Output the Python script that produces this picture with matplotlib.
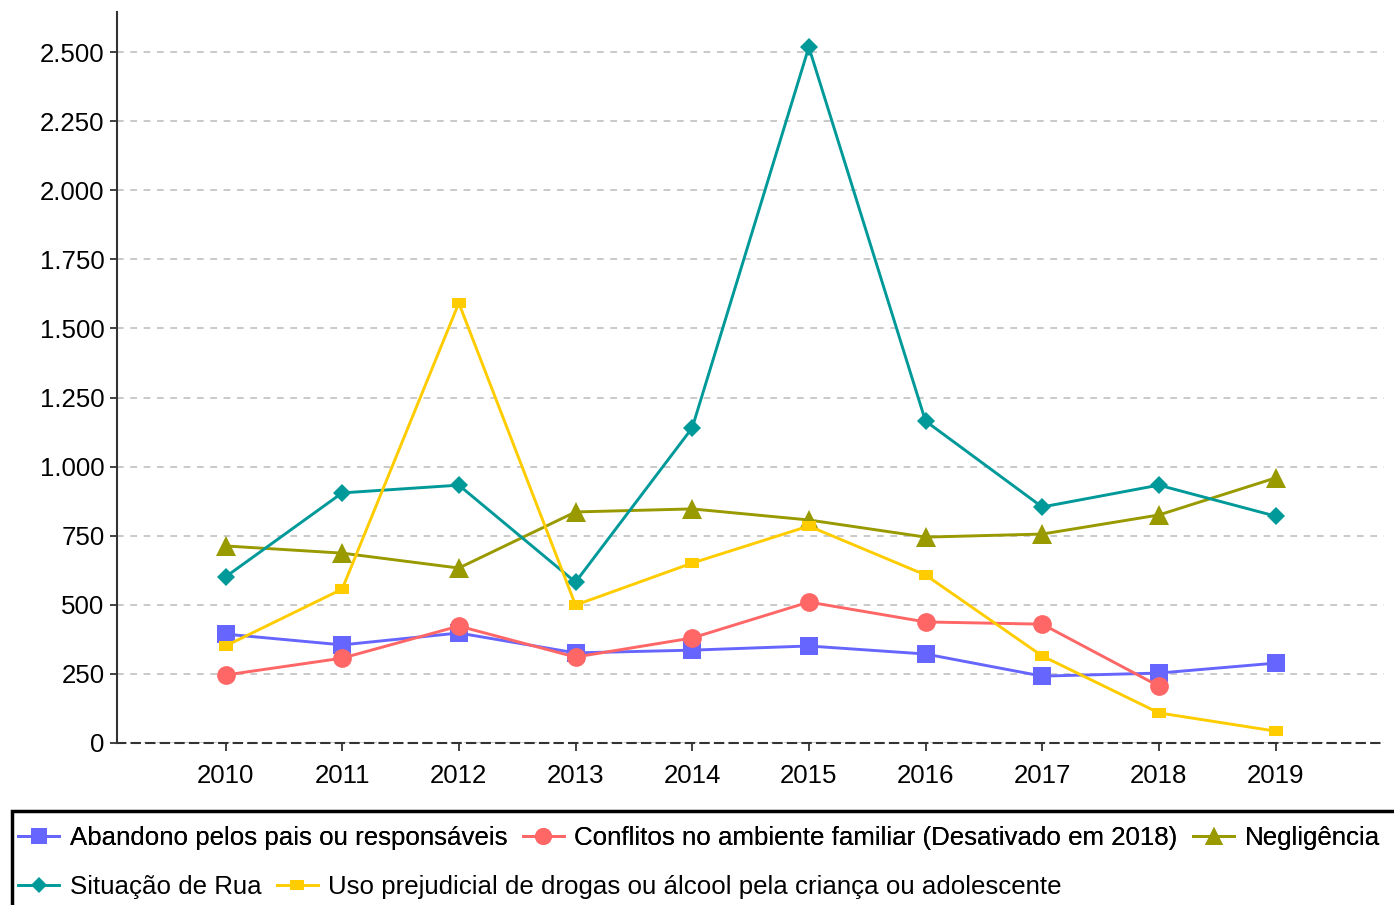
import matplotlib
matplotlib.use("Agg")
import matplotlib.pyplot as plt
from matplotlib.lines import Line2D
from matplotlib.patches import Rectangle
from matplotlib.ticker import FuncFormatter, MultipleLocator

plt.rcParams['font.family'] = ['Liberation Sans', 'DejaVu Sans']

years = [2010, 2011, 2012, 2013, 2014, 2015, 2016, 2017, 2018, 2019]
abandono = [394, 355, 398, 326, 336, 351, 322, 242, 253, 289]
conflitos = [246, 307, 423, 311, 380, 510, 438, 430, 206, None]
negligencia = [713, 687, 633, 836, 847, 807, 745, 756, 825, 959]
situacao_rua = [601, 905, 933, 582, 1140, 2518, 1165, 854, 933, 821]
uso_drogas = [351, 557, 1592, 499, 651, 785, 608, 315, 109, 43]

labels = [
    "Abandono pelos pais ou responsáveis",
    "Conflitos no ambiente familiar (Desativado em 2018)",
    "Negligência",
    "Situação de Rua",
    "Uso prejudicial de drogas ou álcool pela criança ou adolescente",
]

rect = [(-1, -0.7), (1, -0.7), (1, 0.7), (-1, 0.7)]
styles = [
    dict(color="#6666FF", marker="s", ms=12.5),
    dict(color="#FF6666", marker="o", ms=13.5),
    dict(color="#999900", marker="^", ms=14),
    dict(color="#009999", marker="D", ms=9.5),
    dict(color="#FFCC00", marker=rect, ms=10.5),
]
series = [abandono, conflitos, negligencia, situacao_rua, uso_drogas]

FS = 18.6

fig = plt.figure(figsize=(13.94, 9.05), dpi=100)
ax = fig.add_axes([117/1394, 1-743/905, (1384-117)/1394, (743-12)/905])

handles = []
for vals, st, lab in zip(series, styles, labels):
    xs = [y for y, v in zip(years, vals) if v is not None]
    vs = [v for v in vals if v is not None]
    h, = ax.plot(xs, vs, color=st["color"], marker=st["marker"], ms=st["ms"],
                 lw=2.1, mec=st["color"], mew=0, label=lab, zorder=3)
    handles.append(h)

ax.set_xlim(2009.07, 2019.93)
ax.set_ylim(0, 2645)
ax.yaxis.set_major_locator(MultipleLocator(250))
ax.yaxis.set_major_formatter(FuncFormatter(lambda v, p: f"{int(v):,}".replace(",", ".")))
ax.set_xticks(years)
ax.set_xticklabels([str(y) for y in years])
ax.grid(axis="y", color="#c0c0c0", linestyle=(0, (4, 4)), lw=1.2)
ax.set_axisbelow(True)
for s in ["top", "right"]:
    ax.spines[s].set_visible(False)
ax.spines["left"].set_color("#333333")
ax.spines["left"].set_linewidth(1.5)
ax.spines["bottom"].set_color("#333333")
ax.spines["bottom"].set_linestyle((0, (4, 3)))
ax.spines["bottom"].set_linewidth(1.5)
ax.tick_params(axis="both", labelsize=FS, colors="#333333", labelcolor="black",
               length=5, width=1.3)
ax.tick_params(axis="x", length=6, pad=9)
ax.tick_params(axis="y", pad=4)

# legend frame
fig.patches.append(Rectangle((12/1394, -0.01), 1.0, (905-811)/905 + 0.01, transform=fig.transFigure,
                             fill=False, edgecolor="black", lw=2.5, zorder=5))

def mkh(h):
    return Line2D([], [], color=h.get_color(), marker=h.get_marker(), ms=h.get_markersize()*0.9,
                  lw=2.1, mew=0)

kw = dict(frameon=False, loc="center left", fontsize=FS, handlelength=1.6,
          handletextpad=0.4, columnspacing=0.6, borderpad=0, borderaxespad=0)
leg1 = fig.legend([mkh(h) for h in handles[:3]], labels[:3], ncol=3,
                  bbox_to_anchor=(18/1394, 1-838/905), **kw)
leg2 = fig.legend([mkh(h) for h in handles[3:]], labels[3:], ncol=2,
                  bbox_to_anchor=(18/1394, 1-887/905), **kw)
fig.add_artist(leg1)

fig.savefig("out.png", dpi=100)
